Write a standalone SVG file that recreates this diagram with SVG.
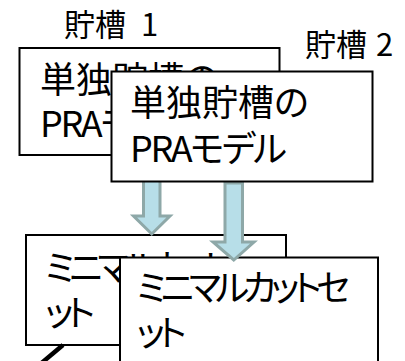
<svg xmlns="http://www.w3.org/2000/svg" width="405" height="361" viewBox="0 0 405 361">
<style>
.box{fill:#fff;stroke:#000;stroke-width:2}
.t{font-family:"Noto Sans CJK JP","Noto Sans",sans-serif;font-size:36px;fill:#000;font-feature-settings:"palt"}
.lbl{font-family:"Noto Sans CJK JP","Noto Sans",sans-serif;font-size:31px;fill:#000}
.arr{fill:#B7DEE8;stroke:#8EA8A8;stroke-width:3;stroke-linejoin:miter}
</style>
<text class="lbl" x="64" y="35.5">貯槽<tspan x="141">1</tspan></text>
<text class="lbl" x="305" y="55.5">貯槽<tspan x="376">2</tspan></text>
<g id="node-pra1">
<rect class="box" x="19.5" y="48" width="260" height="107"/>
<text class="t" x="40" y="92.5">単独貯槽の</text>
<text class="t" x="40" y="137" textLength="157" lengthAdjust="spacing">PRAモデル</text>
</g>
<g id="node-mcs1">
<rect class="box" x="26" y="235" width="260" height="110"/>
<text class="t" x="45" y="281" textLength="214" lengthAdjust="spacing">ミニマルカットセ</text>
<text class="t" x="45" y="326" textLength="50" lengthAdjust="spacing">ット</text>
</g>
<g id="node-mcs2">
<rect class="box" x="120" y="257.5" width="258" height="115"/>
<text class="t" x="136.5" y="301" textLength="214" lengthAdjust="spacing">ミニマルカットセ</text>
<text class="t" x="136.5" y="346" textLength="50" lengthAdjust="spacing">ット</text>
</g>
<g id="connectors">
<path class="arr" d="M143.5,170 H160 V216 H170 L151.75,234 L133.5,216 H143.5 Z"/>
<path class="arr" d="M225,183 H242.5 V242 H254 L233.75,260 L213,242 H225 Z"/>
<line x1="63" y1="345" x2="38" y2="366" stroke="#000" stroke-width="4.5"/>
</g>
<g id="node-pra2">
<rect class="box" x="111.5" y="71.5" width="261" height="110"/>
<text class="t" x="130" y="115.5">単独貯槽の</text>
<text class="t" x="130" y="162" textLength="157" lengthAdjust="spacing">PRAモデル</text>
</g>
</svg>
